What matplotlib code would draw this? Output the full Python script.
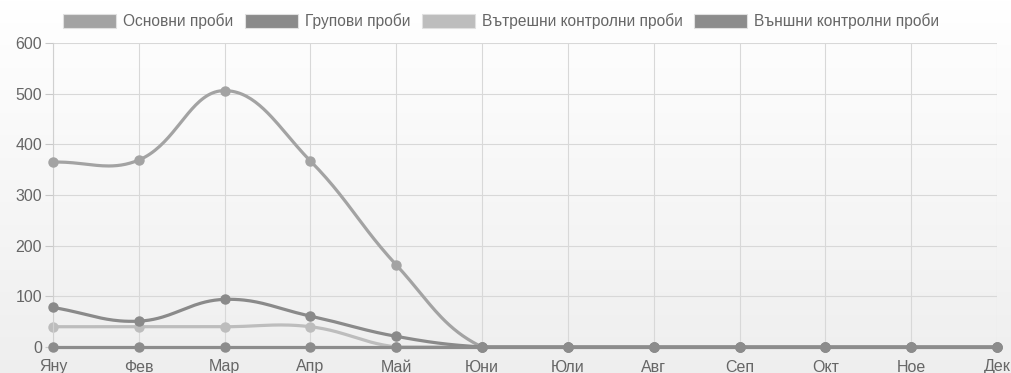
import numpy as np
import matplotlib
matplotlib.use("Agg")
import matplotlib.pyplot as plt
from matplotlib.patches import Rectangle

plt.rcParams['font.family'] = ['Liberation Sans', 'DejaVu Sans']

months = ['Яну', 'Фев', 'Мар', 'Апр', 'Май', 'Юни', 'Юли', 'Авг', 'Сеп', 'Окт', 'Ное', 'Дек']
series_names = ['Основни проби', 'Групови проби', 'Вътрешни контролни проби', 'Външни контролни проби']
main_samples = [365, 369, 506, 367, 162, 0, 0, 0, 0, 0, 0, 0]
group_samples = [78, 51, 94, 61, 21, 0, 0, 0, 0, 0, 0, 0]
internal_samples = [40, 40, 40, 40, 0, 0, 0, 0, 0, 0, 0, 0]
external_samples = [0, 0, 0, 0, 0, 0, 0, 0, 0, 0, 0, 0]
colors = ['#a3a3a3', '#8a8a8a', '#bdbdbd', '#8c8c8c']

W, H = 1011, 373
fig = plt.figure(figsize=(W / 100, H / 100), dpi=100)

# soft vertical gradient behind everything
bg = fig.add_axes([0, 0, 1, 1], zorder=-10)
grad = np.linspace(1.0, 0.935, 256).reshape(-1, 1)
bg.imshow(np.dstack([grad, grad, grad]), aspect='auto', extent=[0, 1, 0, 1])
bg.axis('off')

ax_l, ax_r, ax_b, ax_t = 53, 997, 347, 43
ax = fig.add_axes([ax_l / W, (H - ax_b) / H, (ax_r - ax_l) / W, (ax_b - ax_t) / H])
ax.patch.set_alpha(0)
ymax = 600
ax.set_xlim(0, len(months) - 1)
ax.set_ylim(0, ymax)

px_x = (ax_r - ax_l) / (len(months) - 1)
px_y = (ax_b - ax_t) / ymax


def bezier_path(values, tension=0.4):
    # Chart.js-like spline, control points worked out in pixel space
    xs = np.arange(len(values)) * px_x
    ys = np.array(values, dtype=float) * px_y
    n = len(xs)
    out_x, out_y = [], []
    ctrl = []
    for i in range(n):
        p0 = (xs[max(i - 1, 0)], ys[max(i - 1, 0)])
        p1 = (xs[i], ys[i])
        p2 = (xs[min(i + 1, n - 1)], ys[min(i + 1, n - 1)])
        d01 = np.hypot(p1[0] - p0[0], p1[1] - p0[1])
        d12 = np.hypot(p2[0] - p1[0], p2[1] - p1[1])
        tot = d01 + d12 if d01 + d12 > 0 else 1
        fa = tension * d01 / tot
        fb = tension * d12 / tot
        inner = (p1[0] - fa * (p2[0] - p0[0]), p1[1] - fa * (p2[1] - p0[1]))
        outer = (p1[0] + fb * (p2[0] - p0[0]), p1[1] + fb * (p2[1] - p0[1]))
        inner = (inner[0], min(max(inner[1], 0), ymax * px_y))
        outer = (outer[0], min(max(outer[1], 0), ymax * px_y))
        ctrl.append((inner, outer))
    t = np.linspace(0, 1, 40)[:, None]
    for i in range(n - 1):
        a = np.array([xs[i], ys[i]])
        b = np.array(ctrl[i][1])
        c = np.array(ctrl[i + 1][0])
        d = np.array([xs[i + 1], ys[i + 1]])
        pts = (1 - t) ** 3 * a + 3 * (1 - t) ** 2 * t * b + 3 * (1 - t) * t ** 2 * c + t ** 3 * d
        out_x.extend(pts[:, 0] / px_x)
        out_y.extend(pts[:, 1] / px_y)
    return np.array(out_x), np.array(out_y)


all_series = [main_samples, group_samples, internal_samples, external_samples]
for vals, col, z in zip(all_series, colors, [3, 4, 2, 5]):
    cx, cy = bezier_path(vals)
    ax.plot(cx, cy, color=col, lw=2.3, zorder=z, solid_capstyle='round', clip_on=False)
    ax.plot(range(len(vals)), vals, 'o', color=col, ms=6.5, zorder=z, clip_on=False)

ax.set_xticks(range(len(months)))
ax.set_xticklabels(months)
ax.set_yticks(range(0, 601, 100))
ax.grid(True, color='#d8d8d8', lw=0.8)
ax.set_axisbelow(True)
for s in ['top', 'right']:
    ax.spines[s].set_visible(False)
for s in ['left', 'bottom']:
    ax.spines[s].set_color('#d0d0d0')
ax.tick_params(axis='y', length=6, color='#c8c8c8', labelcolor='#666666', labelsize=11.5, pad=2)
ax.tick_params(axis='x', length=0, labelcolor='#666666', labelsize=11.5, pad=9)

# legend row at the top
leg_boxes = [63, 245, 422, 694]
for x0, name, col in zip(leg_boxes, series_names, colors):
    fig.patches.append(Rectangle((x0 / W, (H - 28) / H), 53 / W, 14 / H,
                                 transform=fig.transFigure, facecolor=col,
                                 edgecolor='#e0e0e0', lw=0.8))
    fig.text((x0 + 60) / W, (H - 21) / H, name, ha='left', va='center',
             fontsize=11.2, color='#666666')

fig.savefig('out.png', dpi=100)
